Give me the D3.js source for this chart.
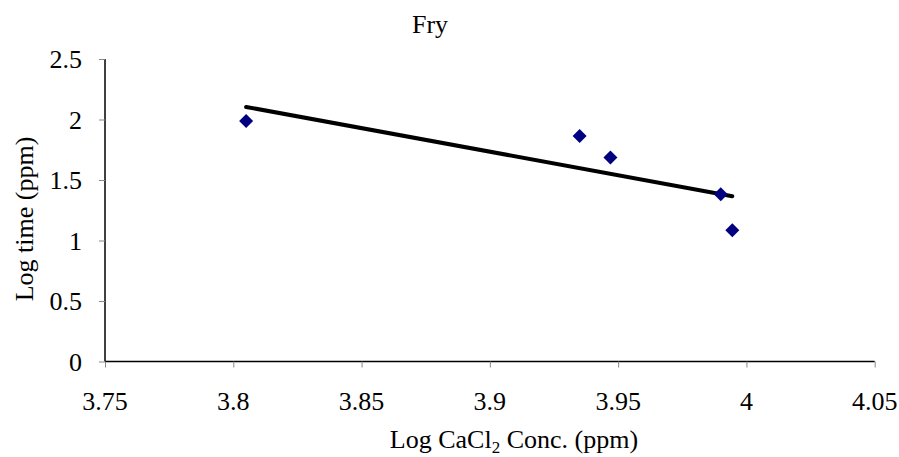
<!DOCTYPE html>
<html>
<head>
<meta charset="utf-8">
<script src="https://cdn.jsdelivr.net/npm/d3@7"></script>
<style>
  body { margin: 0; background: #fff; }
  svg text { font-family: "Liberation Serif", "Times New Roman", Times, "DejaVu Serif", serif; fill: #000; }
</style>
</head>
<body>
<div class="chart"></div>
<script>
// data
var logConc = [3.805, 3.935, 3.947, 3.990, 3.9945];
var logTime = [1.987, 1.863, 1.685, 1.382, 1.085];
var xTicks = [3.75, 3.8, 3.85, 3.9, 3.95, 4, 4.05];
var yTicks = [0, 0.5, 1, 1.5, 2, 2.5];

var svgWidth = 899;
var svgHeight = 457;
var margin = {top: 59, right: 24, bottom: 95, left: 105};
var width = 874.7 - margin.left;
var height = 361.5 - margin.top;

var svg = d3.select(".chart").append("svg")
  .attr("width", svgWidth)
  .attr("height", svgHeight);

var chart = svg.append("g")
  .attr("transform", "translate(" + margin.left + "," + margin.top + ")");

var x = d3.scaleLinear().domain([3.75, 4.05]).range([0, width]);
var y = d3.scaleLinear().domain([0, 2.5]).range([height, 0]);

var bottomAxis = d3.axisBottom(x).tickValues(xTicks).tickSize(6).tickFormat("");
var leftAxis = d3.axisLeft(y).tickValues(yTicks).tickSize(6).tickFormat("");

function styleAxis(g) {
  g.select(".domain").attr("stroke", "#000").attr("stroke-width", 1.5);
  g.selectAll(".tick line").attr("stroke", "#888").attr("stroke-width", 1);
  g.selectAll(".tick text").remove();
}

chart.append("g")
  .attr("transform", "translate(0," + height + ")")
  .call(bottomAxis)
  .call(function(g) {
    g.select(".domain").attr("d", "M0,0H" + width);
    styleAxis(g);
  });

chart.append("g")
  .call(leftAxis)
  .call(function(g) {
    g.select(".domain").attr("d", "M0," + height + "V0");
    styleAxis(g);
  });

// tick labels as plain text so they take the serif face
chart.selectAll(".xlab")
  .data(xTicks)
  .enter().append("text")
  .attr("class", "xlab")
  .attr("x", function(d) { return x(d); })
  .attr("y", height + 48.5)
  .attr("text-anchor", "middle")
  .style("font-size", "26px")
  .text(function(d) { return String(+d.toFixed(2)); });

chart.selectAll(".ylab")
  .data(yTicks)
  .enter().append("text")
  .attr("class", "ylab")
  .attr("x", -23)
  .attr("y", function(d) { return y(d) + 9; })
  .attr("text-anchor", "end")
  .style("font-size", "26px")
  .text(function(d) { return String(d); });

// least squares trendline
var mx = d3.mean(logConc), my = d3.mean(logTime);
var sxy = d3.sum(logConc, function(v, i) { return (v - mx) * (logTime[i] - my); });
var sxx = d3.sum(logConc, function(v) { return (v - mx) * (v - mx); });
var slope = sxy / sxx;
var icpt = my - slope * mx;
var x0 = d3.min(logConc), x1 = d3.max(logConc);

chart.append("line")
  .attr("x1", x(x0)).attr("y1", y(icpt + slope * x0))
  .attr("x2", x(x1)).attr("y2", y(icpt + slope * x1))
  .attr("stroke", "#000")
  .attr("stroke-width", 4)
  .attr("stroke-linecap", "round");

chart.selectAll(".pt")
  .data(logConc)
  .enter().append("path")
  .attr("class", "pt")
  .attr("d", "M0,-7L7,0L0,7L-7,0Z")
  .attr("transform", function(d, i) { return "translate(" + x(d) + "," + y(logTime[i]) + ")"; })
  .attr("fill", "#000080");

// title
svg.append("text")
  .attr("x", 430).attr("y", 33)
  .attr("text-anchor", "middle")
  .style("font-size", "26px")
  .text("Fry");

// y title
svg.append("text")
  .attr("transform", "translate(33,219) rotate(-90)")
  .attr("text-anchor", "middle")
  .style("font-size", "26px")
  .text("Log time (ppm)");

// x title
var xt = svg.append("text")
  .attr("x", 514).attr("y", 448)
  .attr("text-anchor", "middle")
  .style("font-size", "26px");
xt.append("tspan").text("Log CaCl");
xt.append("tspan").attr("dy", 5).style("font-size", "17px").text("2");
xt.append("tspan").attr("dy", -5).text(" Conc. (ppm)");
</script>
</body>
</html>
